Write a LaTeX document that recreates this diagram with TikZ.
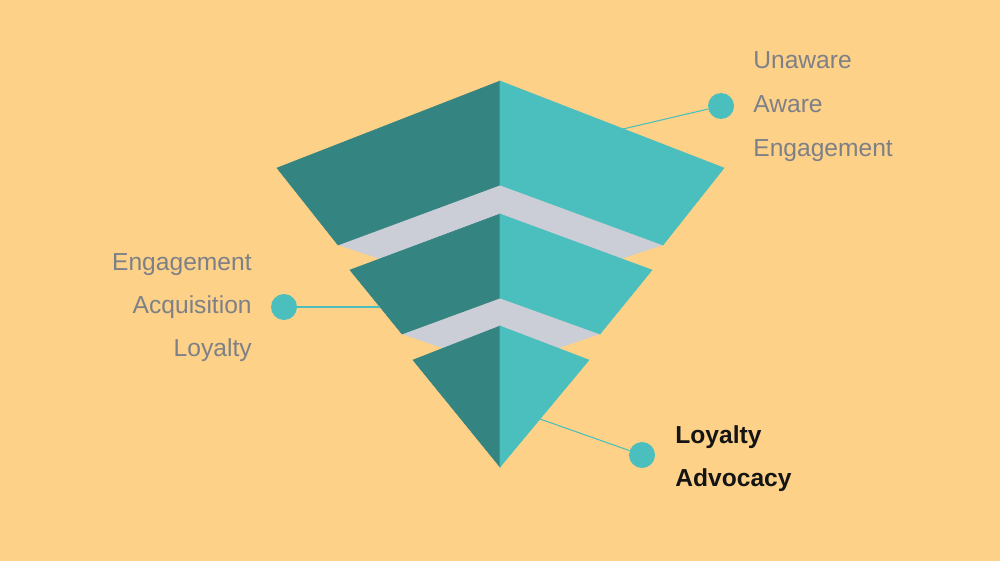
\documentclass[tikz,border=0pt]{standalone}
\usepackage{fontspec}
\setmainfont{Liberation Sans}
\usepackage{xcolor}
\definecolor{bgpeach}{HTML}{FDD187}
\definecolor{tealdark}{HTML}{348482}
\definecolor{teallight}{HTML}{4BBFBD}
\definecolor{bandgray}{HTML}{CBCED6}
\definecolor{labelgray}{HTML}{7D8087}

\begin{document}
\begin{tikzpicture}[
  x=0.02cm, y=-0.02cm,
  darkface/.style={fill=tealdark, draw=tealdark, line width=0.3pt},
  lightface/.style={fill=teallight, draw=teallight, line width=0.3pt},
  band/.style={fill=bandgray},
  dot/.style={circle, fill=teallight, inner sep=0pt, minimum size=0.52cm},
  link/.style={draw=teallight, line width=0.6pt},
  stage/.style={text=labelgray, font=\fontsize{14}{16}\selectfont, inner sep=0pt},
  stagebold/.style={text=black!92, font=\fontsize{14}{16}\selectfont\bfseries, inner sep=0pt}
]
\useasboundingbox (0,0) rectangle (1000,561);
\fill[bgpeach] (0,0) rectangle (1000,561);

% gray bands
\fill[band] (338,245) -- (500,185) -- (663,245) -- (500,299) -- cycle;
\fill[band] (402,334) -- (500,298) -- (600,334) -- (500,368) -- cycle;

% top piece
\filldraw[darkface] (500,81) -- (277,168) -- (338,245) -- (500,185) -- cycle;
\filldraw[lightface] (500,81) -- (724,168) -- (663,245) -- (500,185) -- cycle;

% middle piece
\filldraw[darkface] (500,214) -- (350,270) -- (402,334) -- (500,298) -- cycle;
\filldraw[lightface] (500,214) -- (652,270) -- (600,334) -- (500,298) -- cycle;

% bottom piece
\filldraw[darkface] (500,326) -- (413,360) -- (500,467) -- cycle;
\filldraw[lightface] (500,326) -- (589,360) -- (500,467) -- cycle;

% edge points
\coordinate (topedge) at (623,129);
\coordinate (midedge) at (380,307);
\coordinate (lowedge) at (540,419);

% dots
\node[dot] (topdot) at (721,106) {};
\node[dot] (middot) at (284,307) {};
\node[dot] (lowdot) at (642,455) {};

\draw[link] (topdot) -- (topedge);
\draw[link] (middot) -- (midedge);
\draw[link] (lowdot) -- (lowedge);

% labels
\node[stage, anchor=base west] (unaware) at (753,68) {Unaware};
\node[stage, anchor=base west] (aware) at (753,112) {Aware};
\node[stage, anchor=base west] (engage1) at (753,156) {Engagement};

\node[stage, anchor=base east] (engage2) at (252,270) {Engagement};
\node[stage, anchor=base east] (acquire) at (252,313) {Acquisition};
\node[stage, anchor=base east] (loyal1) at (252,356) {Loyalty};

\node[stagebold, anchor=base west] (loyal2) at (675,443) {Loyalty};
\node[stagebold, anchor=base west] (advocate) at (675,486) {Advocacy};
\end{tikzpicture}
\end{document}
